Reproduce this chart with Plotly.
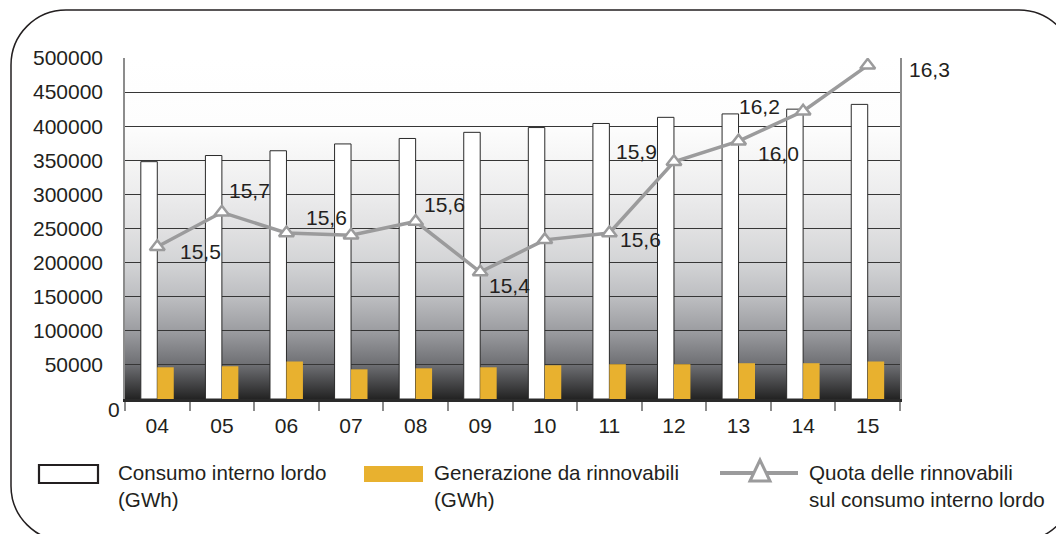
import base64
import plotly.graph_objects as go

# ---------------- data ----------------
anni = ["04", "05", "06", "07", "08", "09", "10", "11", "12", "13", "14", "15"]
consumo_gwh = [348000, 357000, 364000, 374000, 382000, 391000, 398000, 404000, 413000, 418000, 425000, 432000]
rinnovabili_gwh = [46500, 48000, 55000, 43500, 45000, 46500, 49500, 51000, 51000, 52500, 52500, 55000]
quota_pct = [15.51, 15.66, 15.57, 15.56, 15.62, 15.40, 15.54, 15.57, 15.88, 15.97, 16.10, 16.30]
quota_etichette = ["15,5", "15,7", "15,6", "", "15,6", "15,4", "", "15,6", "15,9", "16,0", "16,2", "16,3"]
y_ticks = [50000, 100000, 150000, 200000, 250000, 300000, 350000, 400000, 450000, 500000]

nome_consumo = "Consumo interno lordo<br>(GWh)"
nome_rinn = "Generazione da rinnovabili<br>(GWh)"
nome_quota = "Quota delle rinnovabili<br>sul consumo interno lordo"

# ---------------- style ----------------
FONT = "Liberation Sans, Arial, sans-serif"
TXT = "#231f20"
YELLOW = "#E8B12F"
LINE_GRAY = "#9b9b9c"
W, H = 1064, 534
OFF = 8  # page offset of the figure (body margin)
# plot area in screen pixels: x 125..900, y 58..399
ML, MT = 125 - OFF, 58 - OFF
PW, PH = 775, 341
MR, MB = W - ML - PW, H - MT - PH

def px(x):  # screen x -> paper
    return (x - OFF - ML) / PW

def py(y):  # screen y -> paper
    return (MT + PH - (y - OFF)) / PH

# label placement (style only)
lab_anchor = ["left", "left", "left", "left", "left", "left", "left", "left", "right", "left", "right", "left"]
lab_dx = [21, 5, 18, 0, 6, 7, 0, 9, -15, 17, -21, 39]
lab_dy = [-5, 22, 15, 0, 17, -13, 0, -7, 10, -12, 5, -4]

fig = go.Figure()
fig.add_trace(go.Bar(
    x=anni, y=consumo_gwh, name="Consumo interno lordo (GWh)",
    marker=dict(color="white", line=dict(color="#2a2a2a", width=1)),
    showlegend=False,
))
fig.add_trace(go.Bar(
    x=anni, y=rinnovabili_gwh, name="Generazione da rinnovabili (GWh)",
    marker=dict(color=YELLOW, line=dict(width=0)),
    showlegend=False,
))
fig.add_trace(go.Scatter(
    x=anni, y=quota_pct, yaxis="y2", mode="lines+markers",
    name="Quota delle rinnovabili sul consumo interno lordo",
    line=dict(color=LINE_GRAY, width=3.5),
    marker=dict(symbol="triangle-up", size=13, color="white",
                line=dict(color=LINE_GRAY, width=2.5)),
    showlegend=False,
))

annotations = []
for i, (v, t) in enumerate(zip(quota_pct, quota_etichette)):
    if not t:
        continue
    annotations.append(dict(
        x=i, y=v, xref="x", yref="y2", text=t, showarrow=False,
        xanchor=lab_anchor[i], yanchor="middle",
        xshift=lab_dx[i], yshift=lab_dy[i],
        font=dict(family=FONT, size=21, color=TXT),
    ))

# "0" label on the y axis (sits slightly below the axis line)
annotations.append(dict(
    x=0, y=0, xref="paper", yref="y", text="0", showarrow=False,
    xanchor="right", yanchor="middle", xshift=-3, yshift=-10,
    font=dict(family=FONT, size=21, color=TXT),
))

# custom legend texts
for xt, txt in [(116, nome_consumo), (432, nome_rinn), (807, nome_quota)]:
    annotations.append(dict(
        x=px(xt), y=py(486), xref="paper", yref="paper", text=txt,
        showarrow=False, xanchor="left", yanchor="middle", align="left",
        font=dict(family=FONT, size=20.6, color=TXT),
    ))

shapes = []
# outer rounded frame
L, T, R, B, r = 11, 10, 1074, 541, 55
k = 0.5523 * r
frame = (
    f"M {px(L)},{py(T + r)} "
    f"C {px(L)},{py(T + r - k)} {px(L + r - k)},{py(T)} {px(L + r)},{py(T)} "
    f"L {px(R - r)},{py(T)} "
    f"C {px(R - r + k)},{py(T)} {px(R)},{py(T + r - k)} {px(R)},{py(T + r)} "
    f"L {px(R)},{py(B - r)} "
    f"C {px(R)},{py(B - r + k)} {px(R - r + k)},{py(B)} {px(R - r)},{py(B)} "
    f"L {px(L + r)},{py(B)} "
    f"C {px(L + r - k)},{py(B)} {px(L)},{py(B - r + k)} {px(L)},{py(B - r)} Z"
)
shapes.append(dict(type="path", xref="paper", yref="paper", path=frame,
                   line=dict(color=TXT, width=1.5), fillcolor="rgba(0,0,0,0)", layer="above"))
# legend symbols
shapes.append(dict(type="rect", xref="paper", yref="paper",
                   x0=px(39), x1=px(98), y0=py(465), y1=py(483),
                   fillcolor="white", line=dict(color=TXT, width=2.2), layer="above"))
shapes.append(dict(type="rect", xref="paper", yref="paper",
                   x0=px(364), x1=px(423), y0=py(466), y1=py(482),
                   fillcolor=YELLOW, line=dict(width=0), layer="above"))
shapes.append(dict(type="line", xref="paper", yref="paper",
                   x0=px(720), x1=px(798), y0=py(473), y1=py(473),
                   line=dict(color=LINE_GRAY, width=4), layer="above"))
shapes.append(dict(type="path", xref="paper", yref="paper",
                   xsizemode="pixel", ysizemode="pixel",
                   xanchor=px(760), yanchor=py(473),
                   path="M -10,-8 L 0,13 L 10,-8 Z",
                   fillcolor="white", line=dict(color=LINE_GRAY, width=3), layer="above"))

# gradient background (plot area)
stops = [(0.0, "#ffffff"), (0.2, "#fdfdfd"), (0.3, "#f5f5f5"), (0.4, "#ececed"),
         (0.5, "#e1e1e2"), (0.6, "#d3d4d6"), (0.7, "#bdbec1"), (0.8, "#9c9da1"),
         (0.9, "#6e6f73"), (1.0, "#232323")]
stop_xml = "".join(f"<stop offset='{o}' stop-color='{c}'/>" for o, c in stops)
svg = ("<svg xmlns='http://www.w3.org/2000/svg' width='100' height='100' "
       "viewBox='0 0 100 100' preserveAspectRatio='none'>"
       "<defs><linearGradient id='g' x1='0' y1='0' x2='0' y2='1'>" + stop_xml +
       "</linearGradient></defs><rect x='0' y='0' width='100' height='100' fill='url(#g)'/></svg>")
src = "data:image/svg+xml;base64," + base64.b64encode(svg.encode()).decode()

fig.update_layout(
    width=W, height=H,
    margin=dict(l=ML, r=MR, t=MT, b=MB),
    paper_bgcolor="white",
    plot_bgcolor="rgba(0,0,0,0)",
    barmode="group", bargap=0.49, bargroupgap=0,
    font=dict(family=FONT, size=21, color=TXT),
    showlegend=False,
    images=[dict(source=src, xref="paper", yref="paper", x=0, y=1, sizex=1, sizey=1,
                 xanchor="left", yanchor="top", sizing="stretch", layer="below")],
    xaxis=dict(
        type="category", range=[-0.5, len(anni) - 0.5], autorange=False,
        showgrid=False, zeroline=False,
        showline=True, linecolor="#2a2a2a", linewidth=2.5,
        ticks="outside", tickson="boundaries", ticklen=9, tickwidth=1.5, tickcolor="#8c8c8c",
        tickfont=dict(family=FONT, size=21, color=TXT), ticklabelstandoff=6,
    ),
    yaxis=dict(
        range=[0, 500000], tickmode="array", tickvals=y_ticks,
        ticktext=[str(v) for v in y_ticks],
        showgrid=True, gridcolor="#363636", gridwidth=1.4, zeroline=False,
        showline=True, linecolor="#8c8c8c", linewidth=1.5, mirror=True,
        ticks="", tickfont=dict(family=FONT, size=21, color=TXT), ticklabelstandoff=16,
    ),
    yaxis2=dict(range=[14.847, 16.332], overlaying="y", side="right",
                visible=False, showgrid=False),
    annotations=annotations,
    shapes=shapes,
)

fig.write_html("out.html")
